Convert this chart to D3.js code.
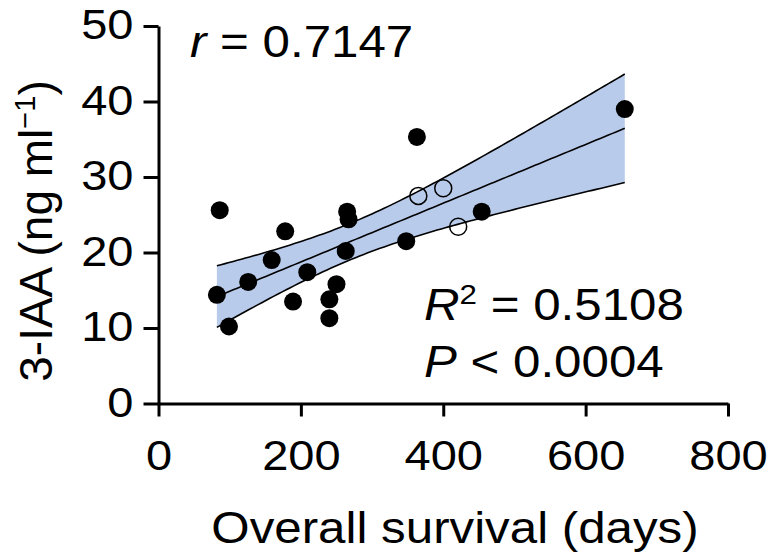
<!DOCTYPE html>
<html>
<head>
<meta charset="utf-8">
<script src="https://cdn.jsdelivr.net/npm/d3@7"></script>
<style>
  body { margin: 0; background: #fff; }
  svg text { font-family: "Liberation Sans", Arial, Helvetica, sans-serif; fill: #000; }
</style>
</head>
<body>
<div id="chart"></div>
<script>
// survival (days) and 3-IAA (ng/ml), filled dots
var survDays = [86, 82, 99, 126, 159, 178, 189, 209, 240, 240, 250, 265, 267, 263, 363, 348, 454, 655];
var iaaVals  = [25.6, 14.4, 10.2, 16.1, 19.0, 22.8, 13.5, 17.4, 11.3, 13.8, 15.8, 25.4, 24.4, 20.2, 35.3, 21.5, 25.4, 39.0];
// open circles
var openDays = [365, 400, 421];
var openVals = [27.5, 28.5, 23.4];

var xTicks = [0, 200, 400, 600, 800];
var yTicks = [0, 10, 20, 30, 40, 50];

const W = 768, H = 560;
const sx = 1.12; // picture is a bit wider than tall

var svg = d3.select('#chart').append('svg')
  .attr('width', W)
  .attr('height', H);

const x = d3.scaleLinear().domain([0, 800]).range([158.5, 728]);
const y = d3.scaleLinear().domain([0, 50]).range([403.5, 26]);

// linear fit with 95% confidence band, all points
var allX = survDays.concat(openDays);
var allY = iaaVals.concat(openVals);
const n = allX.length;
const mx = d3.mean(allX), my = d3.mean(allY);
let sxx = 0, sxy = 0;
allX.forEach((v, i) => { sxx += (v - mx) * (v - mx); sxy += (v - mx) * (allY[i] - my); });
const slope = sxy / sxx, icpt = my - slope * mx;
let sse = 0;
allX.forEach((v, i) => { const r = allY[i] - (icpt + slope * v); sse += r * r; });
const se = Math.sqrt(sse / (n - 2));
const tcrit = 2.093; // t(0.975, 19)

const xmin = d3.min(allX), xmax = d3.max(allX);
const band = d3.range(0, 101).map(k => {
  const xv = xmin + (xmax - xmin) * k / 100;
  const fit = icpt + slope * xv;
  const h = tcrit * se * Math.sqrt(1 / n + (xv - mx) * (xv - mx) / sxx);
  return {x: xv, fit: fit, lo: fit - h, hi: fit + h};
});

svg.append('path')
  .datum(band)
  .attr('fill', '#b9cbeb')
  .attr('d', d3.area().x(d => x(d.x)).y0(d => y(d.lo)).y1(d => y(d.hi)));

['lo', 'fit', 'hi'].forEach(k => {
  svg.append('path')
    .datum(band)
    .attr('fill', 'none')
    .attr('stroke', '#000')
    .attr('stroke-width', 1.6)
    .attr('d', d3.line().x(d => x(d.x)).y(d => y(d[k])));
});

// axes
var xAxis = svg.append('g')
  .attr('transform', 'translate(0,' + y(0) + ')')
  .call(d3.axisBottom(x).tickValues(xTicks).tickSize(13).tickSizeOuter(0));
xAxis.selectAll('text')
  .attr('y', 0).attr('dy', null)
  .attr('transform', 'translate(0,' + (470 - y(0)) + ') scale(' + sx + ',1)');

var yAxis = svg.append('g')
  .attr('transform', 'translate(' + x(0) + ',0)')
  .call(d3.axisLeft(y).tickValues(yTicks).tickSize(15).tickSizeOuter(0).tickPadding(10));
yAxis.selectAll('text')
  .attr('x', -25 / sx)
  .attr('dy', '0.3em')
  .attr('transform', 'scale(' + sx + ',1)');

[xAxis, yAxis].forEach(a => {
  a.selectAll('path, line').attr('stroke', '#000').attr('stroke-width', 3);
  a.selectAll('text').style('font-size', '42px').attr('fill', '#000');
});

// points
svg.append('g').selectAll('circle')
  .data(survDays.map((d, i) => [d, iaaVals[i]]))
  .enter().append('circle')
    .attr('cx', d => x(d[0]))
    .attr('cy', d => y(d[1]))
    .attr('r', 9)
    .attr('fill', '#000');

svg.append('g').selectAll('circle')
  .data(openDays.map((d, i) => [d, openVals[i]]))
  .enter().append('circle')
    .attr('cx', d => x(d[0]))
    .attr('cy', d => y(d[1]))
    .attr('r', 8.5)
    .attr('fill', 'none')
    .attr('stroke', '#000')
    .attr('stroke-width', 1.5);

// annotations
function label(tx, ty, size, anchor) {
  return svg.append('text')
    .attr('transform', 'translate(' + tx + ',' + ty + ') scale(' + sx + ',1)')
    .attr('text-anchor', anchor || 'start')
    .style('font-size', size + 'px');
}

var t1 = label(190, 57, 44);
t1.append('tspan').style('font-style', 'italic').text('r');
t1.append('tspan').text(' = 0.7147');

var t2 = label(424, 320, 44);
t2.append('tspan').style('font-style', 'italic').text('R');
t2.append('tspan').attr('dy', -16).style('font-size', '28px').text('2');
t2.append('tspan').attr('dy', 16).text(' = 0.5108');

var t3 = label(424, 377, 44);
t3.append('tspan').style('font-style', 'italic').text('P');
t3.append('tspan').text(' < 0.0004');

label(455, 543, 44, 'middle').text('Overall survival (days)');

var yl = svg.append('text')
  .attr('transform', 'translate(52,231) rotate(-90)')
  .attr('text-anchor', 'middle')
  .style('font-size', '46px');
yl.append('tspan').text('3-IAA (ng ml');
yl.append('tspan').attr('dy', -17).style('font-size', '29px').text('\u22121');
yl.append('tspan').attr('dy', 17).text(')');
</script>
</body>
</html>
